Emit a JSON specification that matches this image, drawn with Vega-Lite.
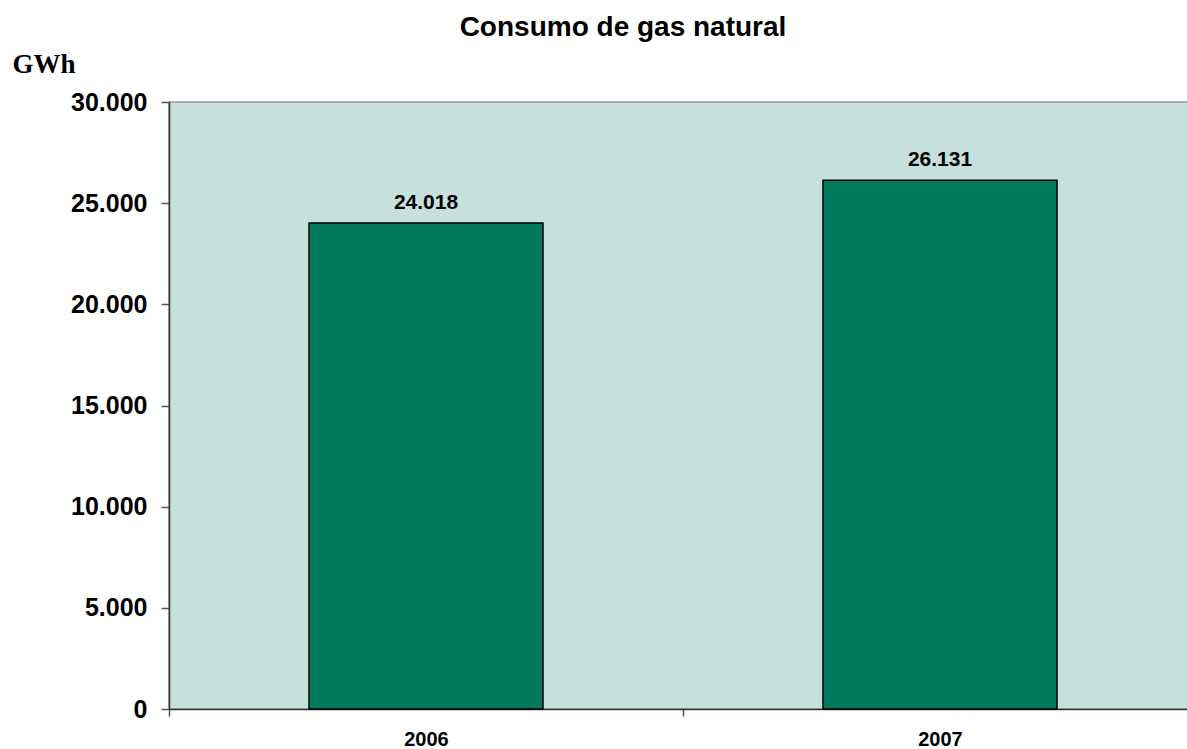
{
  "$schema": "https://vega.github.io/schema/vega-lite/v6.json",
  "width": 1028,
  "height": 607,
  "autosize": "none",
  "padding": {"left": 169, "top": 102, "right": 0, "bottom": 40},
  "background": "white",
  "config": {
    "locale": {"number": {"decimal": ",", "thousands": ".", "grouping": [3], "currency": ["", " €"]}},
    "view": {"fill": "#C6E0DC", "stroke": "#999999", "strokeWidth": 1.5},
    "font": "Liberation Sans"
  },
  "title": {
    "text": "Consumo de gas natural",
    "font": "Liberation Sans",
    "fontSize": 28,
    "fontWeight": "bold",
    "color": "#000000",
    "anchor": "middle",
    "frame": "group",
    "dx": -60,
    "baseline": "alphabetic",
    "offset": -14
  },
  "data": {"values": [
    {"year": "2006", "gwh": 24018},
    {"year": "2007", "gwh": 26131}
  ]},
  "encoding": {
    "x": {
      "field": "year",
      "type": "nominal",
      "scale": {"paddingInner": 0, "paddingOuter": 0},
      "axis": {
        "title": null,
        "labelAngle": 0,
        "labelFont": "Liberation Sans",
        "labelFontSize": 20,
        "labelFontWeight": "bold",
        "labelColor": "#000000",
        "labelPadding": 13,
        "tickBand": "extent",
        "tickSize": 7,
        "tickColor": "#555555",
        "tickWidth": 1.5,
        "domainColor": "#333333",
        "domainWidth": 1.5
      }
    },
    "y": {
      "field": "gwh",
      "type": "quantitative",
      "scale": {"domain": [0, 30000], "nice": false},
      "axis": {
        "values": [0, 5000, 10000, 15000, 20000, 25000, 30000],
        "format": ",d",
        "grid": false,
        "title": "GWh",
        "titleFont": "Liberation Serif",
        "titleFontSize": 27,
        "titleFontWeight": "bold",
        "titleColor": "#000000",
        "titleAngle": 0,
        "titleAlign": "left",
        "titleBaseline": "alphabetic",
        "titleX": -157,
        "titleY": -30,
        "labelFont": "Liberation Sans",
        "labelFontSize": 25,
        "labelFontWeight": "bold",
        "labelColor": "#000000",
        "labelPadding": 14,
        "tickSize": 8,
        "tickColor": "#555555",
        "tickWidth": 1.5,
        "domainColor": "#333333",
        "domainWidth": 1.5
      }
    }
  },
  "layer": [
    {
      "mark": {"type": "bar", "size": 234, "color": "#007A5A", "stroke": "#000000", "strokeWidth": 1.5}
    },
    {
      "mark": {"type": "text", "dy": -14, "baseline": "alphabetic", "fontSize": 21, "fontWeight": "bold", "font": "Liberation Sans", "color": "#000000"},
      "encoding": {"text": {"field": "gwh", "type": "quantitative", "format": ",d"}}
    }
  ]
}
